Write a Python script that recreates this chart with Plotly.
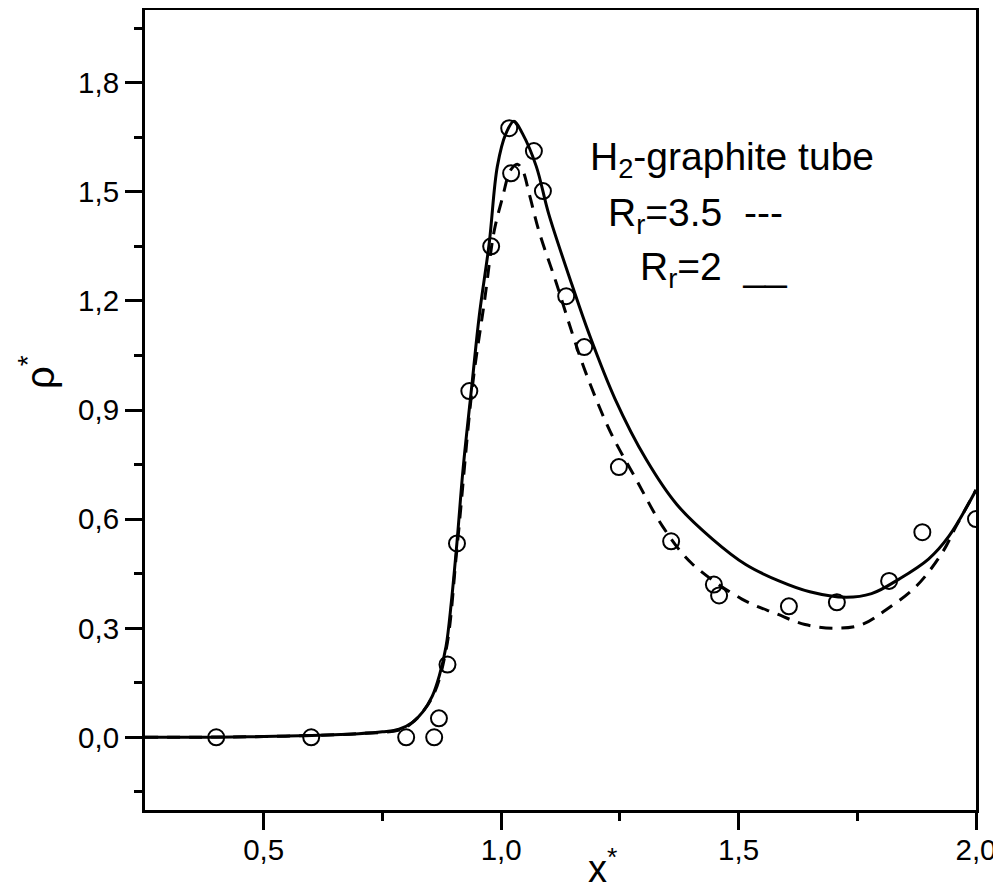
import plotly.graph_objects as go

# Experimental points
exp_x = [0.40, 0.60, 0.80, 0.859, 0.869, 0.887, 0.907, 0.933, 0.979, 1.017, 1.021,
         1.069, 1.088, 1.137, 1.175, 1.248, 1.358, 1.448, 1.459, 1.606, 1.707,
         1.817, 1.887, 2.0]
exp_y = [0.0, 0.0, 0.0, 0.0, 0.052, 0.20, 0.533, 0.952, 1.35, 1.675, 1.551,
         1.612, 1.502, 1.213, 1.073, 0.743, 0.539, 0.42, 0.39, 0.36, 0.371,
         0.43, 0.564, 0.60]

# Rr = 2 (solid)
r2_x = [0.25, 0.40, 0.50, 0.60, 0.70, 0.75, 0.785, 0.813, 0.835, 0.855, 0.870,
        0.884, 0.895, 0.907, 0.920, 0.939, 0.954, 0.975, 0.992, 1.010, 1.027,
        1.045, 1.074, 1.100, 1.149, 1.185, 1.240, 1.305, 1.370, 1.445, 1.515,
        1.585, 1.650, 1.726, 1.780, 1.838, 1.900, 1.943, 2.0]
r2_y = [0.0, 0.0, 0.002, 0.005, 0.010, 0.015, 0.022, 0.041, 0.070, 0.113, 0.170,
        0.25, 0.37, 0.536, 0.74, 0.976, 1.16, 1.36, 1.57, 1.66, 1.694,
        1.66, 1.57, 1.44, 1.245, 1.11, 0.93, 0.765, 0.64, 0.545, 0.475,
        0.43, 0.40, 0.385, 0.395, 0.435, 0.49, 0.553, 0.68]

# Rr = 3.5 (dashed)
r35_x = [0.25, 0.50, 0.70, 0.785, 0.813, 0.855, 0.884, 0.907, 0.940, 0.965, 0.985,
         1.002, 1.020, 1.034, 1.045, 1.060, 1.080, 1.116, 1.150, 1.179, 1.230,
         1.284, 1.340, 1.400, 1.507, 1.579, 1.640, 1.705, 1.760, 1.810, 1.874,
         1.930, 1.958, 2.0]
r35_y = [0.0, 0.002, 0.010, 0.020, 0.040, 0.110, 0.24, 0.52, 0.97, 1.20, 1.39,
         1.48, 1.56, 1.576, 1.56, 1.49, 1.39, 1.25, 1.11, 1.00, 0.84,
         0.71, 0.58, 0.48, 0.38, 0.34, 0.31, 0.30, 0.31, 0.35, 0.415,
         0.51, 0.58, 0.68]

x_ticks = [0.5, 1.0, 1.5, 2.0]
y_ticks = [0.0, 0.3, 0.6, 0.9, 1.2, 1.5, 1.8]

FONT = "Liberation Sans, Arial, sans-serif"
OFF = 8  # default page body margin
W, H = 1001 - OFF, 894 - OFF
# plot area in page pixels
L, R, T, B = 145, 976, 10, 810

fig = go.Figure()
fig.add_trace(go.Scatter(x=r35_x, y=r35_y, mode="lines", line_shape="spline",
                         line=dict(color="black", width=3, dash="13px,9px"),
                         showlegend=False))
fig.add_trace(go.Scatter(x=r2_x, y=r2_y, mode="lines", line_shape="spline",
                         line=dict(color="black", width=3), showlegend=False))
fig.add_trace(go.Scatter(x=exp_x, y=exp_y, mode="markers",
                         marker=dict(symbol="circle-open", size=16, color="black",
                                     line=dict(width=2, color="black")),
                         showlegend=False))

TICKFONT = dict(family=FONT, size=29.5, color="black")

fig.update_layout(
    template="none",
    width=W, height=H,
    margin=dict(l=L - OFF, r=W - (R - OFF), t=T - OFF, b=H - (B - OFF),
                pad=0, autoexpand=False),
    paper_bgcolor="white", plot_bgcolor="white",
    separators=", ",
    font=dict(family=FONT, size=28, color="black"),
    xaxis=dict(range=[0.25, 2.0], tickvals=x_ticks, tickformat=".1f",
               automargin=False, ticklabelstandoff=-5,
               showline=True, linewidth=3, linecolor="black", mirror=True,
               ticks="outside", ticklen=17, tickwidth=3, tickcolor="black",
               showgrid=False, zeroline=False,
               minor=dict(tickvals=[0.75, 1.25, 1.75], ticks="outside",
                          ticklen=8, tickwidth=3, tickcolor="black", showgrid=False),
               tickfont=TICKFONT),
    yaxis=dict(range=[-0.2, 2.0], tickvals=y_ticks, tickformat=".1f",
               automargin=False,
               showline=True, linewidth=3, linecolor="black", mirror=True,
               ticks="outside", ticklen=17, tickwidth=3, tickcolor="black",
               showgrid=False, zeroline=False,
               minor=dict(tickvals=[-0.15, 0.15, 0.45, 0.75, 1.05, 1.35, 1.65, 1.95],
                          ticks="outside", ticklen=8, tickwidth=3,
                          tickcolor="black", showgrid=False),
               tickfont=TICKFONT),
)


def px(xp):
    return (xp - L) / (R - L)


def py(yp):
    return (B - yp) / (B - T)


annots = [
    dict(text="H<sub>2</sub>-graphite tube", x=588, y=186),
    dict(text="R<sub>r</sub>=3.5  ---", x=606, y=242),
    dict(text="R<sub>r</sub>=2  __", x=638, y=296),
]
for a in annots:
    fig.add_annotation(text=a["text"], xref="paper", yref="paper",
                       x=px(a["x"]), y=py(a["y"]),
                       xanchor="left", yanchor="bottom", showarrow=False,
                       font=dict(family=FONT, size=39, color="black"))

# axis titles
fig.add_annotation(text="x<sup>*</sup>", xref="paper", yref="paper",
                   x=px(602), y=py(866), xanchor="center", yanchor="middle",
                   showarrow=False, font=dict(family=FONT, size=38, color="black"))
fig.add_annotation(text="ρ<sup>*</sup>", xref="paper", yref="paper",
                   x=px(37), y=py(372), xanchor="center",
                   yanchor="middle", textangle=-90,
                   showarrow=False, font=dict(family=FONT, size=40, color="black"))

fig.write_html("out.html")
